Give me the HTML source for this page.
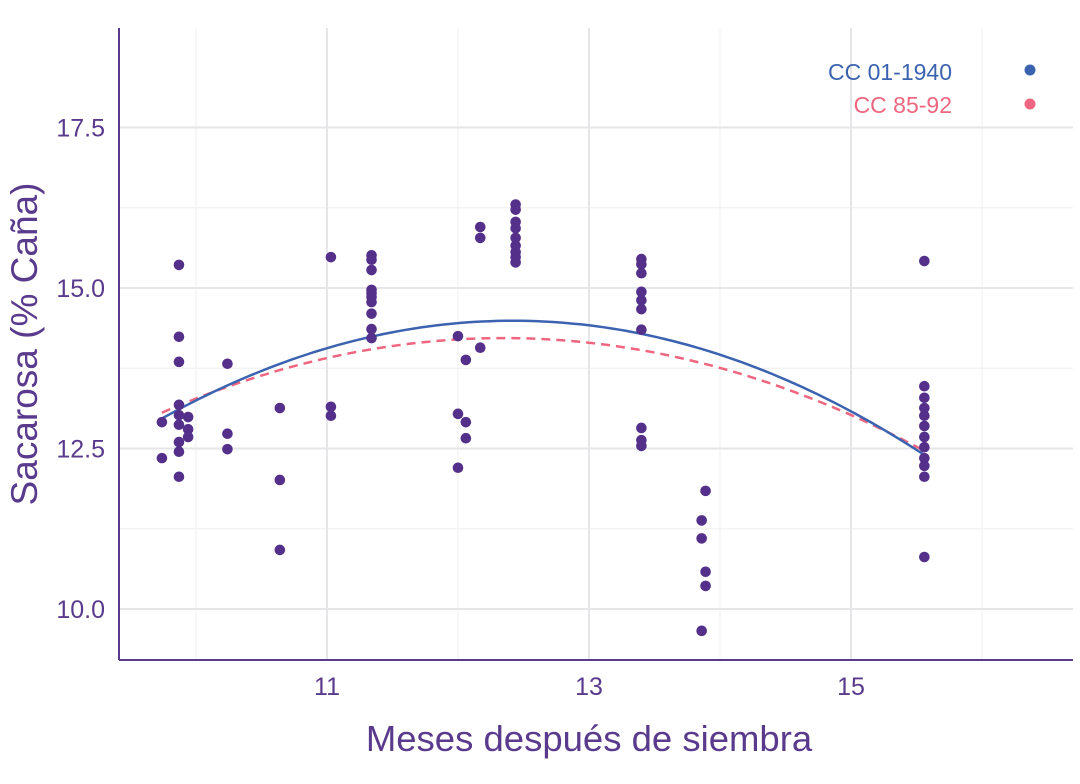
<!DOCTYPE html>
<html><head><meta charset="utf-8"><style>
body{margin:0;background:#fff;}
svg{display:block;font-family:"Liberation Sans",sans-serif;}
</style></head><body>
<svg id="chart" width="1080" height="784">
<g id="grid"></g>
<g id="curves"></g>
<g id="points"></g>
<line x1="119" y1="28" x2="119" y2="660" stroke="#5a3a8c" stroke-width="2"/>
<line x1="119" y1="660" x2="1073" y2="660" stroke="#5a3a8c" stroke-width="2"/>
<g id="ticks"></g>
<text x="589" y="751" text-anchor="middle" font-size="36.5" fill="#5a3a8c">Meses después de siembra</text>
<text transform="translate(37,344) rotate(-90)" text-anchor="middle" font-size="37" fill="#5a3a8c">Sacarosa (% Caña)</text>
<g>
<text x="952" y="80" text-anchor="end" font-size="23" fill="#3c63b0">CC 01-1940</text>
<circle cx="1030" cy="70" r="5.5" fill="#3c63b0"/>
<text x="952" y="113" text-anchor="end" font-size="23" fill="#ee6680">CC 85-92</text>
<circle cx="1030" cy="104" r="5.5" fill="#ee6680"/>
</g>
</svg>
<script>
const xTicks=[11,13,15];
const xMinor=[10,12,14,16];
const yTicks=[10,12.5,15,17.5];
const yTickLabels=["10.0","12.5","15.0","17.5"];
const yMinor=[11.25,13.75,16.25];
const ptX=[9.74,9.74,
9.87,9.87,9.87,9.87,9.87,9.87,9.87,9.87,9.87,
9.94,9.94,9.94,
10.24,10.24,10.24,
10.64,10.64,10.64,
11.03,11.03,11.03,
11.34,11.34,11.34,11.34,11.34,11.34,11.34,11.34,11.34,11.34,
12.0,12.0,12.0,
12.06,12.06,12.06,
12.17,12.17,12.17,
12.44,12.44,12.44,12.44,12.44,12.44,12.44,12.44,12.44,
13.40,13.40,13.40,13.40,13.40,13.40,13.40,13.40,13.40,13.40,
13.86,13.86,13.86,13.89,13.89,13.89,
15.56,15.56,15.56,15.56,15.56,15.56,15.56,15.56,15.56,15.56,15.56,15.56];
const ptY=[12.91,12.35,
15.36,14.24,13.85,13.18,13.02,12.87,12.60,12.45,12.06,
12.99,12.80,12.68,
13.82,12.73,12.49,
13.13,12.01,10.92,
15.48,13.15,13.01,
15.51,15.44,15.28,14.97,14.92,14.86,14.78,14.60,14.36,14.22,
14.25,13.04,12.20,
13.88,12.91,12.66,
15.95,15.78,14.07,
16.30,16.22,16.03,15.93,15.78,15.66,15.56,15.48,15.40,
15.45,15.37,15.23,14.94,14.81,14.67,14.35,12.82,12.63,12.54,
11.38,11.10,9.66,11.84,10.58,10.36,
15.42,13.47,13.29,13.13,13.01,12.85,12.68,12.52,12.35,12.23,12.06,10.81];
// quadratic fits: [a, vertexX, vertexY]
const fitBlue=[-0.212,12.42,14.49];
const fitPink=[-0.1706,12.35,14.22];
const fitRange=[9.74,15.56];

const NS="http://www.w3.org/2000/svg";
const sx=v=>196+(v-10)*131;
const sy=v=>288-(v-15)*64.2;
function mk(tag,attrs,parent){const e=document.createElementNS(NS,tag);for(const k in attrs)e.setAttribute(k,attrs[k]);parent.appendChild(e);return e;}
const grid=document.getElementById('grid');
xMinor.forEach(v=>{const l=mk('line',{x1:sx(v),x2:sx(v),y1:28,y2:660,stroke:'#efeff1','stroke-width':1},grid);

});
yMinor.forEach(v=>{const l=mk('line',{x1:119,x2:1073,y1:sy(v),y2:sy(v),stroke:'#efeff1','stroke-width':1},grid);

});
xTicks.forEach(v=>{const l=mk('line',{x1:sx(v),x2:sx(v),y1:28,y2:660,stroke:'#e6e6e8','stroke-width':2},grid);

});
yTicks.forEach(v=>{const l=mk('line',{x1:119,x2:1073,y1:sy(v),y2:sy(v),stroke:'#e6e6e8','stroke-width':2},grid);

});
const ticks=document.getElementById('ticks');
xTicks.forEach(v=>{const t=mk('text',{x:sx(v),y:695,'text-anchor':'middle','font-size':25,fill:'#5a3a8c'},ticks);t.textContent=v;

});
yTicks.forEach((v,i)=>{const t=mk('text',{x:105,y:sy(v)+9,'text-anchor':'end','font-size':25,fill:'#5a3a8c'},ticks);t.textContent=yTickLabels[i];

});
const pts=document.getElementById('points');
ptX.forEach((x,i)=>{const c=mk('circle',{cx:sx(x),cy:sy(ptY[i]),r:5.3,fill:'#54308a'},pts);

});
const curves=document.getElementById('curves');
function curve(f,color,dash,name){let d='';for(let i=0;i<=100;i++){const x=fitRange[0]+(fitRange[1]-fitRange[0])*i/100;const y=f[0]*(x-f[1])*(x-f[1])+f[2];d+=(i?'L':'M')+sx(x).toFixed(1)+','+sy(y).toFixed(1);}
const p=mk('path',{d:d,fill:'none',stroke:color,'stroke-width':2.5},curves);if(dash)p.setAttribute('stroke-dasharray',dash);

}
curve(fitPink,'#ee6680','9,6','fit-curve-cc85-92');
curve(fitBlue,'#3c63b0',null,'fit-curve-cc01-1940');
</script>
</body></html>
